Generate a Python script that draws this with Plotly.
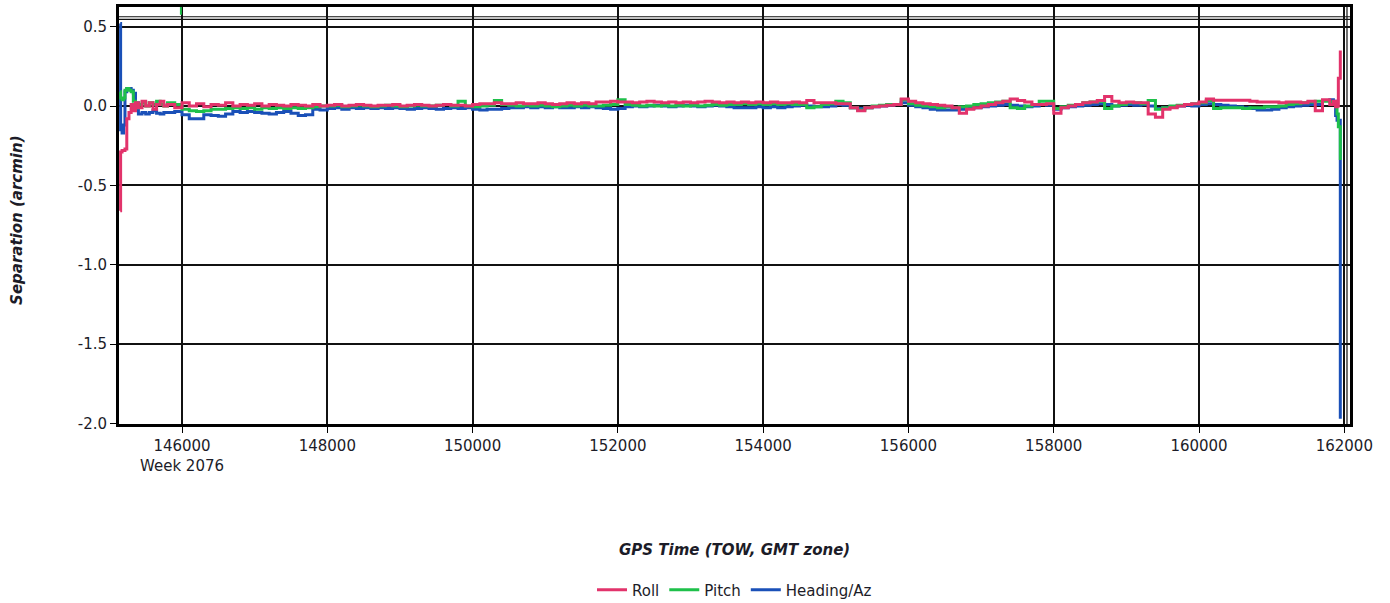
import plotly.graph_objects as go

# ---------------- data ----------------
tow = [
    145150, 145155, 145175, 145195, 145215, 145240, 145270, 145300, 145330, 145360,
    145400, 145450, 145500, 145550, 145600, 145650, 145700, 145750,
    145800, 145900, 146000, 146100, 146200, 146300, 146400, 146500, 146600, 146700,
    146800, 146900, 147000, 147100, 147200, 147300, 147400, 147500, 147600, 147700,
    147800, 147900, 148000, 148100, 148200, 148300, 148400, 148500, 148600, 148700,
    148800, 148900, 149000, 149100, 149200, 149300, 149400, 149500, 149600, 149700,
    149800, 149900, 150000, 150100, 150200, 150300, 150400, 150500, 150600, 150700,
    150800, 150900, 151000, 151100, 151200, 151300, 151400, 151500, 151600, 151700,
    151800, 151900, 152000, 152100, 152200, 152300, 152400, 152500, 152600, 152700,
    152800, 152900, 153000, 153100, 153200, 153300, 153400, 153500, 153600, 153700,
    153800, 153900, 154000, 154100, 154200, 154300, 154400, 154500, 154600, 154700,
    154800, 154900, 155000, 155100, 155200, 155300, 155400, 155500, 155600, 155700,
    155800, 155900, 156000, 156100, 156200, 156300, 156400, 156500, 156600, 156700,
    156800, 156900, 157000, 157100, 157200, 157300, 157400, 157500, 157600, 157700,
    157800, 157900, 158000, 158100, 158200, 158300, 158400, 158500, 158600, 158700,
    158800, 158900, 159000, 159100, 159200, 159300, 159400, 159500, 159600, 159700,
    159800, 159900, 160000, 160100, 160200, 160300, 160400, 160500, 160600, 160700,
    160800, 160900, 161000, 161100, 161200, 161300, 161400, 161500, 161600, 161700,
    161800, 161850, 161880, 161900, 161918, 161945,
]

heading = [
    0.52, -0.15, -0.17, -0.12, 0.09, 0.11, 0.11, 0.10, 0.08, 0.02,
    -0.05, -0.04, -0.05, -0.04, -0.03, -0.045, -0.05, -0.04,
    -0.04, -0.035, -0.055, -0.08, -0.08, -0.055, -0.06, -0.065, -0.05, -0.035,
    -0.04, -0.035, -0.04, -0.045, -0.05, -0.04, -0.035, -0.045, -0.06, -0.055,
    -0.02, -0.025, -0.015, -0.01, -0.02, -0.01, -0.015, -0.01, -0.015, -0.01,
    -0.015, -0.01, -0.015, -0.02, -0.015, -0.01, -0.015, -0.02, -0.015, -0.01,
    -0.015, -0.01, -0.02, -0.025, -0.02, -0.02, -0.015, -0.01, -0.01, -0.005,
    -0.01, -0.005, -0.01, -0.005, -0.01, -0.01, -0.005, -0.01, -0.005, -0.01,
    -0.015, -0.02, -0.015, -0.005, 0.0, -0.005, 0.0, 0.005, 0.0, -0.005,
    0.0, 0.005, 0.0, -0.005, 0.0, 0.005, 0.0, -0.005, -0.01, -0.01,
    -0.01, -0.005, -0.01, -0.005, -0.01, -0.005, 0.0, 0.005, 0.0, -0.005,
    -0.005, 0.0, 0.01, 0.005, -0.01, -0.015, -0.01, -0.005, 0.0, 0.005,
    0.01, 0.02, 0.005, -0.005, -0.01, -0.02, -0.025, -0.025, -0.025, -0.02,
    -0.015, -0.01, -0.005, 0.0, 0.005, 0.01, 0.005, 0.0, -0.005, 0.0,
    0.01, 0.005, -0.02, -0.01, -0.005, 0.0, 0.005, 0.01, 0.015, 0.01,
    0.0, 0.005, 0.01, 0.005, 0.01, 0.0, -0.015, -0.01, -0.005, 0.0,
    0.005, 0.0, 0.01, 0.015, 0.01, 0.005, 0.0, -0.005, -0.01, -0.015,
    -0.025, -0.025, -0.02, -0.01, -0.005, 0.0, 0.005, 0.01, 0.01, 0.035,
    0.04, 0.03, -0.06, -0.09, -0.09, -1.97,
]

pitch = [
    0.09, 0.05, 0.04, 0.05, 0.10, 0.11, 0.10, 0.09, 0.03, -0.01,
    0.01, 0.02, 0.0, 0.02, 0.01, 0.03, 0.01, 0.0,
    0.02, 0.01, -0.02, -0.03, -0.035, -0.03, -0.02, -0.02, -0.015, -0.01,
    -0.015, -0.01, -0.02, -0.01, -0.015, -0.01, -0.015, -0.01, -0.015, -0.01,
    -0.005, 0.0, 0.0, 0.005, -0.005, 0.0, 0.005, 0.0, -0.005, 0.0,
    0.005, 0.0, -0.005, 0.0, 0.005, 0.0, 0.0, 0.005, 0.01, 0.0,
    0.03, 0.0, -0.005, 0.0, 0.005, 0.035, 0.01, 0.005, 0.0, 0.005,
    0.0, 0.005, 0.0, -0.005, 0.0, 0.005, 0.0, 0.005, 0.0, 0.0,
    0.005, 0.01, 0.04, 0.01, 0.005, 0.0, 0.005, 0.0, 0.005, 0.0,
    0.005, 0.0, 0.005, 0.0, 0.005, 0.01, 0.005, 0.01, 0.01, 0.015,
    0.01, 0.015, 0.01, 0.015, 0.01, 0.015, 0.01, 0.01, -0.01, -0.005,
    0.01, 0.015, 0.03, 0.02, -0.01, -0.025, -0.01, 0.0, 0.005, 0.01,
    0.01, 0.04, 0.015, 0.005, 0.0, -0.005, -0.01, -0.005, -0.01, -0.005,
    0.0, 0.01, 0.015, 0.02, 0.025, 0.03, -0.01, -0.015, 0.0, 0.01,
    0.03, 0.03, -0.015, -0.005, 0.005, 0.01, 0.02, 0.025, 0.03, -0.015,
    0.0, 0.01, 0.02, 0.02, 0.015, 0.035, -0.02, -0.01, 0.0, 0.005,
    0.01, 0.015, 0.02, 0.035, -0.015, -0.01, -0.01, -0.01, -0.015, -0.01,
    -0.01, -0.005, -0.005, 0.0, 0.01, 0.015, 0.02, 0.025, 0.03, 0.03,
    0.025, 0.02, 0.01, -0.05, -0.13, -0.34,
]

roll = [
    -0.66, -0.29, -0.28, -0.28, -0.27, -0.08, -0.04, 0.01, -0.03, 0.02,
    -0.01, 0.03, 0.0, 0.02, -0.02, 0.01, 0.03, 0.0,
    0.01, -0.01, 0.02, 0.0, 0.015, -0.005, 0.01, 0.005, 0.02, 0.0,
    0.01, 0.005, 0.015, 0.0, 0.01, 0.005, 0.0, 0.01, 0.005, 0.0,
    0.01, 0.0, 0.005, 0.01, 0.0, 0.005, 0.01, 0.005, 0.0, 0.005,
    0.005, 0.01, 0.0, 0.005, 0.01, 0.005, 0.0, 0.005, 0.01, 0.005,
    0.005, 0.0, 0.01, 0.015, 0.015, 0.02, 0.015, 0.015, 0.02, 0.015,
    0.015, 0.02, 0.015, 0.01, 0.015, 0.02, 0.015, 0.02, 0.015, 0.025,
    0.025, 0.03, 0.025, 0.025, 0.02, 0.025, 0.03, 0.025, 0.02, 0.025,
    0.02, 0.025, 0.02, 0.025, 0.03, 0.025, 0.02, 0.025, 0.02, 0.025,
    0.02, 0.025, 0.02, 0.025, 0.02, 0.02, 0.025, 0.02, 0.035, 0.02,
    0.02, 0.02, 0.015, 0.015, -0.01, -0.03, -0.01, -0.005, 0.0, 0.005,
    0.01, 0.045, 0.03, 0.02, 0.015, 0.01, 0.005, 0.0, -0.01, -0.045,
    -0.02, -0.01, 0.0, 0.01, 0.02, 0.03, 0.045, 0.035, 0.025, 0.01,
    0.01, 0.015, -0.045, -0.01, 0.0, 0.01, 0.02, 0.025, 0.035, 0.06,
    0.03, 0.02, 0.025, 0.02, 0.02, -0.05, -0.07, -0.02, -0.01, 0.0,
    0.01, 0.015, 0.025, 0.045, 0.036, 0.036, 0.036, 0.036, 0.036, 0.03,
    0.025, 0.025, 0.025, 0.02, 0.025, 0.025, 0.02, 0.03, -0.03, 0.04,
    0.01, 0.03, -0.005, 0.0, 0.175, 0.35,
]

pitch_spike_tow = [145985, 145985]
pitch_spike_val = [0.575, 0.65]

x_tick_vals = [146000, 148000, 150000, 152000, 154000, 156000, 158000, 160000, 162000]
x_tick_text = ["146000<br>Week 2076", "148000", "150000", "152000", "154000",
               "156000", "158000", "160000", "162000"]
y_tick_vals = [-2.0, -1.5, -1.0, -0.5, 0.0, 0.5]
y_tick_text = ["-2.0", "-1.5", "-1.0", "-0.5", "0.0", "0.5"]

inner_frame_y = [0.5627, 0.5463]
inner_frame_x = 162037

# ---------------- styling ----------------
FONT = "DejaVu Sans"
TXT = "#1c1c28"
C_ROLL = "#E2336B"
C_PITCH = "#1EC04A"
C_HEAD = "#1A50B8"
LW = 3

fig = go.Figure()
fig.add_trace(go.Scatter(x=tow, y=heading, mode="lines", name="Heading/Az",
                         line=dict(color=C_HEAD, width=LW, shape="hv")))
fig.add_trace(go.Scatter(x=tow, y=pitch, mode="lines", name="Pitch",
                         line=dict(color=C_PITCH, width=LW, shape="hv")))
fig.add_trace(go.Scatter(x=pitch_spike_tow, y=pitch_spike_val, mode="lines",
                         showlegend=False, line=dict(color=C_PITCH, width=2)))
fig.add_trace(go.Scatter(x=tow, y=roll, mode="lines", name="Roll",
                         line=dict(color=C_ROLL, width=LW, shape="hv")))

shapes = []
for yv in inner_frame_y:
    shapes.append(dict(type="line", xref="paper", yref="y", x0=0, x1=1, y0=yv, y1=yv,
                       line=dict(color="#111", width=1.2)))
shapes.append(dict(type="line", xref="x", yref="paper", x0=inner_frame_x, x1=inner_frame_x,
                   y0=0, y1=1, line=dict(color="#111", width=1.2)))

fig.update_layout(
    width=1390, height=603,
    margin=dict(l=119, r=40, t=7, b=179, autoexpand=False),
    paper_bgcolor="white", plot_bgcolor="white",
    font=dict(family=FONT, size=15, color=TXT),
    showlegend=True,
    legend=dict(orientation="h", x=0.5, xanchor="center", y=-0.398, yanchor="middle",
                traceorder="reversed", font=dict(family=FONT, size=15, color=TXT),
                bgcolor="rgba(0,0,0,0)", itemwidth=30),
    shapes=shapes,
    annotations=[
        dict(text="<b><i>GPS Time (TOW, GMT zone)</i></b>", xref="paper", yref="paper",
             x=0.5, y=-0.302, xanchor="center", yanchor="middle", showarrow=False,
             font=dict(family=FONT, size=15, color=TXT)),
        dict(text="<b><i>Separation (arcmin)</i></b>", xref="paper", yref="paper",
             x=-0.083, y=0.489, xanchor="center", yanchor="middle", textangle=-90,
             showarrow=False, font=dict(family=FONT, size=15, color=TXT)),
    ],
)

fig.update_xaxes(
    range=[145132.8, 162078.4], automargin=False,
    tickmode="array", tickvals=x_tick_vals, ticktext=x_tick_text,
    showgrid=True, gridcolor="#111", gridwidth=1.5,
    showline=True, linecolor="black", linewidth=3, mirror=True,
    ticks="outside", ticklen=6, tickcolor="black", tickwidth=1,
    zeroline=False, tickfont=dict(family=FONT, size=15, color=TXT),
)
fig.update_yaxes(
    range=[-2.0035, 0.6241], automargin=False,
    tickmode="array", tickvals=y_tick_vals, ticktext=y_tick_text,
    showgrid=True, gridcolor="#111", gridwidth=1.5,
    showline=True, linecolor="black", linewidth=3, mirror=True,
    ticks="outside", ticklen=6, tickcolor="black", tickwidth=1,
    zeroline=False, tickfont=dict(family=FONT, size=15, color=TXT),
)

fig.write_html("out.html", config={"displayModeBar": False},
               post_script="document.body.style.margin='0';document.body.style.overflow='hidden';")
